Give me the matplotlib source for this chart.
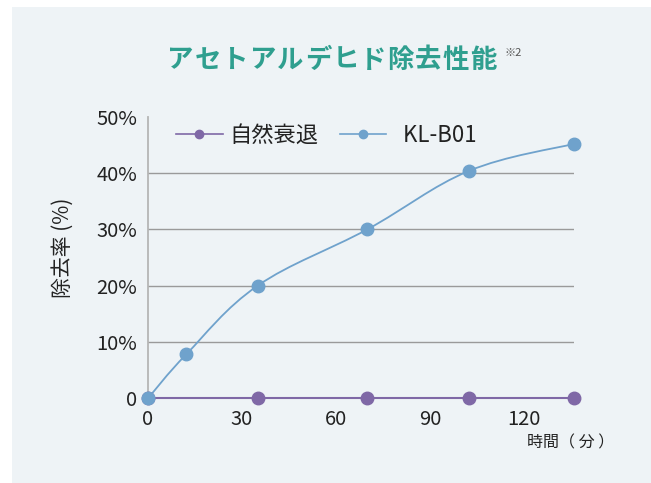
import matplotlib
matplotlib.use("Agg")
import matplotlib.pyplot as plt
from matplotlib.path import Path
from matplotlib.patches import PathPatch, Rectangle
from matplotlib.lines import Line2D

plt.rcParams['font.family'] = ['Noto Sans CJK JP', 'DejaVu Sans']

# Data
title = "アセトアルデヒド除去性能"
title_note = "※2"
series_names = ["自然衰退", "KL-B01"]
time_natural = [0, 35, 70, 102.5, 136]
val_natural = [0, 0, 0, 0, 0]
time_kl = [0, 12.2, 35, 70, 102.5, 136]
val_kl = [0, 7.8, 20, 30, 40.4, 45.2]
xticks = [0, 30, 60, 90, 120]
yticks = [0, 10, 20, 30, 40, 50]
ytick_labels = ["0", "10%", "20%", "30%", "40%", "50%"]
ylabel = "除去率 (%)"
xlabel = "時間（ 分 ）"

c_nat = "#7f68a6"
c_kl = "#6fa2cc"
teal = "#2f9f8f"
bg = "#eef3f6"

fig = plt.figure(figsize=(6.51, 4.83), dpi=100)
fig.patch.set_facecolor("white")
fig.patches.append(Rectangle((12/651, 0), 1 - 12/651, 1 - 7/483, transform=fig.transFigure,
                             facecolor=bg, edgecolor="none", zorder=-10))

ax = fig.add_axes([148/651, (483-398.3)/483, 426/651, 281.5/483])
ax.set_facecolor("none")
ax.set_xlim(0, 136)
ax.set_ylim(0, 50)

for s in ["top", "right", "bottom"]:
    ax.spines[s].set_visible(False)
ax.spines["left"].set_color("#b5b5b5")
ax.spines["left"].set_linewidth(1.3)

for y in yticks[1:-1]:
    ax.axhline(y, color="#9a9a9a", lw=1.0, zorder=1)

ax.set_xticks(xticks)
ax.set_xticklabels([str(t) for t in xticks])
ax.set_yticks(yticks)
ax.set_yticklabels(ytick_labels)
ax.tick_params(axis="both", length=0, labelsize=14.5, colors="#222222")
ax.tick_params(axis="x", pad=8)
ax.tick_params(axis="y", pad=8)

# smooth KL curve via Catmull-Rom -> cubic Bezier
verts = [(time_kl[0], val_kl[0])]
codes = [Path.MOVETO]
n = len(time_kl)
for i in range(n - 1):
    p0 = (time_kl[max(i-1, 0)], val_kl[max(i-1, 0)])
    p1 = (time_kl[i], val_kl[i])
    p2 = (time_kl[i+1], val_kl[i+1])
    p3 = (time_kl[min(i+2, n-1)], val_kl[min(i+2, n-1)])
    t = 0.18
    c1 = (p1[0] + (p2[0]-p0[0])*t, p1[1] + (p2[1]-p0[1])*t)
    c2 = (p2[0] - (p3[0]-p1[0])*t, p2[1] - (p3[1]-p1[1])*t)
    verts += [c1, c2, p2]
    codes += [Path.CURVE4]*3
ax.add_patch(PathPatch(Path(verts, codes), facecolor="none", edgecolor=c_kl, lw=1.3,
                       zorder=3, clip_on=False))

ax.plot(time_natural, val_natural, color=c_nat, lw=1.5, marker="o", ms=9,
        zorder=4, clip_on=False)
ax.plot(time_kl, val_kl, color=c_kl, lw=0, marker="o", ms=9, zorder=5, clip_on=False)

handles = [Line2D([], [], color=c_nat, lw=1.2, marker="o", ms=6),
           Line2D([], [], color=c_kl, lw=1.2, marker="o", ms=6)]
leg = ax.legend(handles, [series_names[0], "  " + series_names[1]], ncol=2, frameon=False,
                loc="center left", bbox_to_anchor=(0.019, 0.935), fontsize=16,
                handlelength=2.1, handletextpad=0.3, columnspacing=0.95)
for t in leg.get_texts():
    t.set_color("#222222")

fig.text(63/651, (483-248)/483, ylabel, rotation=90, fontsize=15,
         color="#222222", ha="center", va="center")
fig.text(614/651, (483-443)/483, xlabel, fontsize=11.5, color="#222222",
         ha="right", va="center")

# title with letter spacing
pitch = 27.6
x0 = 167 + 13
for i, ch in enumerate(title):
    fig.text((x0 + i * pitch)/651, (483-60)/483, ch, fontsize=19, fontweight=600,
             color=teal, ha="center", va="center")
fig.text(504/651, (483-53)/483, title_note, fontsize=8, color="#555555",
         ha="left", va="center")

fig.savefig("out.png", dpi=100, facecolor=fig.get_facecolor())
